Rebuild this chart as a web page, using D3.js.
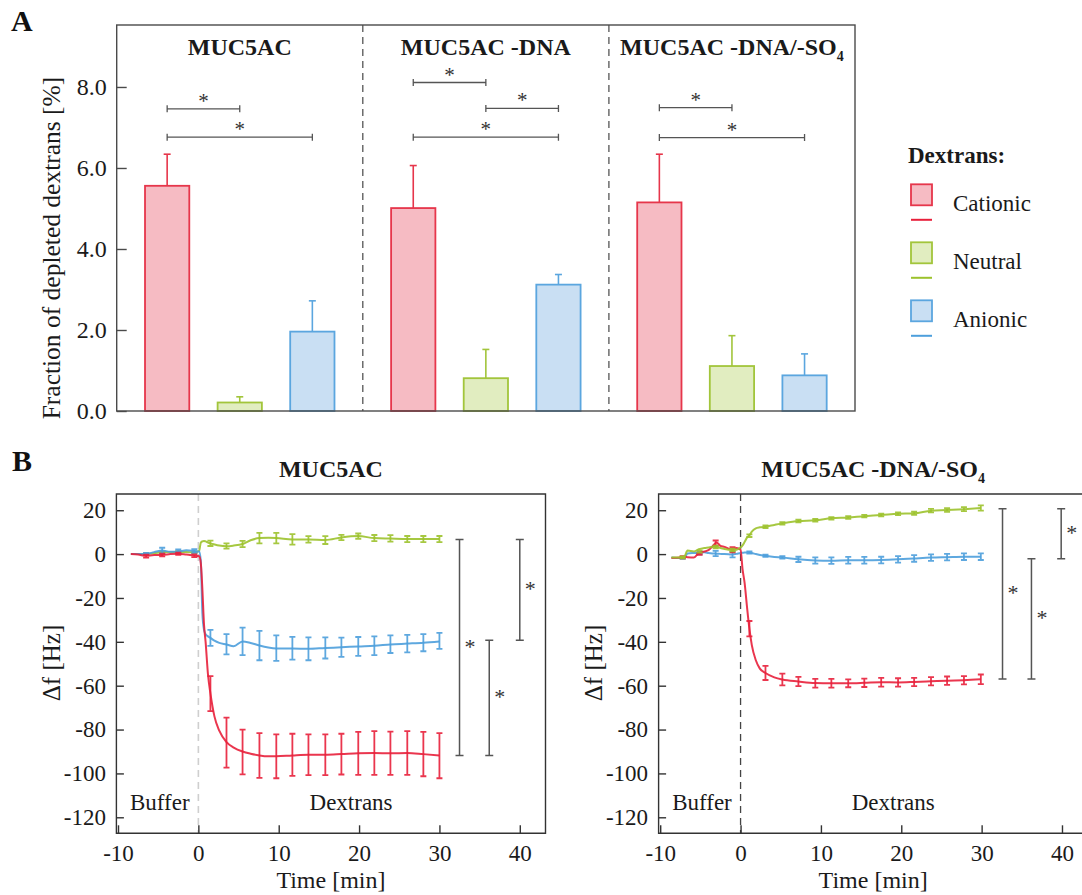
<!DOCTYPE html>
<html><head><meta charset="utf-8">
<script src="https://cdn.jsdelivr.net/npm/d3@7"></script>
<style>
html,body{margin:0;padding:0;background:#fff;}
svg{display:block;}
svg text{font-family:"Liberation Serif","Times New Roman",serif;}
</style></head><body>
<svg id="chart" width="1082" height="895"></svg>
<script>
// ---------------- DATA : panel A ----------------
const groupsA = ["MUC5AC", "MUC5AC -DNA", "MUC5AC -DNA/-SO4"];
const seriesNames = ["Cationic", "Neutral", "Anionic"];
const cationicA = [5.56, 5.01, 5.15];
const cationicErrA = [0.78, 1.05, 1.19];
const neutralA = [0.21, 0.81, 1.11];
const neutralErrA = [0.14, 0.71, 0.75];
const anionicA = [1.96, 3.12, 0.88];
const anionicErrA = [0.76, 0.25, 0.53];
const yTicksA = [0, 2, 4, 6, 8];
// significance brackets: group index, from series, to series, level
const sigGroupA = [0, 0, 1, 1, 1, 2, 2];
const sigFromA  = [0, 0, 0, 1, 0, 0, 0];
const sigToA    = [1, 2, 1, 2, 2, 1, 2];
const sigLevelA = [7.46, 6.76, 8.11, 7.47, 6.76, 7.49, 6.75];

// ---------------- DATA : panel B (left, MUC5AC) ----------------
const tLineL = [-8.4,-7.5,-6.5,-5.5,-4.5,-3.5,-2.5,-1.5,-0.5,0.1,0.3,0.5,0.7,0.9,1.2,1.5,2.0,2.6,3.5,4.4,5.5,6.5,7.6,8.7,9.7,11.7,13.7,15.8,17.8,19.9,21.9,23.9,26.0,28.0,30.0];
const cationicLineL = [0,-0.2,-0.8,-0.4,-0.4,0,0.2,-0.2,-0.7,-1.0,-4,-16,-32,-40,-55,-63.5,-74,-80.5,-85.7,-88.2,-90,-91,-91.8,-92.2,-92.2,-91.8,-91.5,-91.5,-91.2,-90.8,-90.7,-90.8,-90.7,-91.2,-91.8];
const neutralLineL  = [0,0,0.1,0.4,0.8,1.0,0.9,0.9,0.8,1.5,5.2,5.8,6.0,5.8,5.3,4.9,4.4,3.9,3.6,3.9,4.6,6.3,7.3,7.4,7.3,6.7,6.7,6.4,7.6,8.2,7.3,7.1,6.9,6.85,6.85];
const anionicLineL  = [0,0,0.1,0.9,1.6,1.1,1.2,1.7,1.4,1.2,-3,-27,-34.5,-36.5,-37.5,-38.2,-39.5,-40.5,-41.2,-42.0,-39.8,-40.5,-41.7,-42.6,-43.0,-43.0,-43.2,-42.8,-42.5,-42.1,-41.8,-41.2,-40.8,-40.4,-39.8];
const tBarL = [-6.5,-4.5,-2.5,-0.5,1.5,3.5,5.5,7.6,9.7,11.7,13.7,15.8,17.8,19.9,21.9,23.9,26.0,28.0,30.0];
const cationicBarL = [-0.9,-0.45,0.15,-0.75,-63.6,-86.0,-90.2,-91.8,-92.2,-91.5,-91.5,-91.5,-91.2,-90.9,-90.7,-90.8,-90.7,-91.2,-91.9];
const cationicErrL = [0.7,0.6,0.5,0.6,8.0,11.4,10.2,10.2,10.0,9.6,9.3,9.3,9.3,9.8,10.0,9.9,10.0,10.1,10.3];
const neutralBarL  = [0.1,0.8,0.9,0.8,4.9,3.65,4.6,7.3,7.3,6.7,6.7,6.4,7.6,8.2,7.3,7.15,6.85,6.85,6.85];
const neutralErrL  = [0.3,0.4,0.4,0.4,1.2,1.2,1.4,2.4,2.4,2.4,1.5,1.8,1.2,1.2,1.4,1.5,1.4,1.4,1.4];
const anionicBarL  = [0.1,1.6,1.2,1.4,-38.2,-41.1,-39.8,-41.7,-42.9,-42.9,-43.2,-42.8,-42.5,-42.1,-41.8,-41.1,-40.8,-40.4,-39.6];
const anionicErrL  = [0.4,1.3,0.9,0.8,3.65,4.6,6.3,6.7,5.8,5.2,5.2,4.8,4.4,4.3,4.3,4.0,4.0,3.9,3.65];
const sigXL  = [32.5, 36.2, 40.0];
const sigY1L = [6.6, -39.3, 6.6];
const sigY2L = [-91.8, -91.8, -39.3];

// ---------------- DATA : panel B (right, MUC5AC -DNA/-SO4) ----------------
const tLineR = [-8.6,-7.5,-7.0,-6.6,-5.8,-5.2,-4.5,-4.0,-3.5,-3.0,-2.5,-2.0,-1.5,-1.0,-0.5,0.0,0.25,0.5,0.8,1.1,1.4,1.9,2.4,3.1,4.2,5.2,7.2,9.3,11.3,13.4,15.4,17.5,19.6,21.6,23.7,25.7,27.8,29.9];
const cationicLineR = [-1.8,-1.5,-1.3,-1.4,-1.5,0.5,1.2,1.8,3.5,5.3,3.8,3.3,2.5,2.2,2.8,2.0,-7,-13,-24,-34,-41.5,-48.4,-52.2,-54.2,-56.2,-57.2,-58.1,-58.8,-58.9,-58.9,-58.7,-58.4,-58.5,-58.3,-58.0,-57.7,-57.5,-57.1];
const neutralLineR  = [-1.5,-1.5,-1.2,1.6,1.2,2.2,2.8,3.0,3.3,3.1,2.8,2.3,2.0,1.8,2.0,3.0,4.0,5.5,7.5,8.6,10.2,11.7,12.2,12.5,13.3,14.0,15.1,15.4,16.3,16.7,17.3,17.8,18.4,18.6,19.8,20.1,20.5,21.0];
const anionicLineR  = [-1.5,-1.8,-1.8,0.3,0.5,0.6,0.8,0.5,0.3,0.2,0.1,0.0,-0.1,-0.2,0.1,0.5,0.6,0.7,0.7,0.7,0.5,0.0,-0.4,-0.8,-1.3,-1.5,-2.4,-2.9,-3.0,-2.8,-2.8,-2.7,-2.4,-2.0,-1.6,-1.4,-1.2,-1.2];
const tBarR = [-7.2,-5.1,-3.1,-1.0,1.1,3.1,5.2,7.2,9.3,11.3,13.4,15.4,17.5,19.6,21.6,23.7,25.7,27.8,29.9];
const cationicBarR = [-1.4,0.2,5.0,2.0,-34,-54.2,-57.2,-58.1,-58.9,-58.9,-58.9,-58.7,-58.4,-58.5,-58.3,-58.0,-57.7,-57.5,-57.1];
const cationicErrR = [0.5,0.5,1.2,1.2,3.5,3.2,2.7,2.1,2.0,2.0,1.8,1.9,2.0,1.9,1.9,1.9,1.9,1.9,2.2];
const neutralBarR  = [-1.5,1.2,3.2,1.9,8.4,12.5,14.0,15.1,15.4,16.3,16.7,17.3,17.8,18.4,18.6,19.8,20.1,20.5,21.0];
const neutralErrR  = [0.4,0.5,0.6,0.6,0.6,0.6,0.6,0.6,0.6,0.6,0.6,0.6,0.6,0.6,0.7,0.8,0.8,0.9,1.2];
const anionicBarR  = [-1.8,0.5,0.3,-0.2,0.7,-0.8,-1.5,-2.4,-2.9,-3.0,-2.8,-2.8,-2.7,-2.4,-2.0,-1.6,-1.4,-1.2,-1.2];
const anionicErrR  = [0.4,0.6,1.2,1.3,0.5,0.5,0.6,1.2,1.4,1.5,1.5,1.5,1.5,1.5,1.5,1.5,1.5,1.5,1.5];
const sigXR  = [32.6, 36.2, 39.9];
const sigY1R = [20.7, -2.1, 20.7];
const sigY2R = [-57.0, -57.0, -2.1];

const yTicksB = [20, 0, -20, -40, -60, -80, -100, -120];
const xTicksB = [-10, 0, 10, 20, 30, 40];

// ---------------- STYLE ----------------
const style = {
  Cationic: {stroke: "#e6364b", fill: "#f6bbc3", line: "#e8203b"},
  Neutral:  {stroke: "#a2c53b", fill: "#e1edc0", line: "#9cc22c"},
  Anionic:  {stroke: "#5ba6df", fill: "#c9dff3", line: "#4d9fdc"}
};
const textColor = "#1a1a1a";
const serif = '"Liberation Serif","Times New Roman",serif';

const svg = d3.select("#chart").attr("font-family", serif);

// ================= PANEL A =================
const A = {x0: 116.7, x1: 855, y0: 25, y1: 411};
const gx = d3.scaleBand().domain(groupsA).range([A.x0, A.x1]);
const sx = d3.scaleBand().domain(seriesNames).range([0, gx.bandwidth()]).paddingInner(0.39).paddingOuter(0.39);
const yA = d3.scaleLinear().domain([0, 9.53]).range([A.y1, A.y0]);
const valsA = {Cationic: cationicA, Neutral: neutralA, Anionic: anionicA};
const errsA = {Cationic: cationicErrA, Neutral: neutralErrA, Anionic: anionicErrA};

const gA = svg.append("g");
gA.selectAll("line.sep").data(groupsA.slice(1)).enter().append("line")
  .attr("x1", d => gx(d)).attr("x2", d => gx(d))
  .attr("y1", A.y0).attr("y2", A.y1)
  .attr("stroke", "#555").attr("stroke-width", 1.3).attr("stroke-dasharray", "7,5");

groupsA.forEach((g, gi) => {
  seriesNames.forEach(s => {
    const v = valsA[s][gi], e = errsA[s][gi];
    const cx = gx(g) + sx(s) + sx.bandwidth() / 2;
    gA.append("line").attr("x1", cx).attr("x2", cx).attr("y1", yA(v)).attr("y2", yA(v + e))
      .attr("stroke", style[s].stroke).attr("stroke-width", 1.6);
    gA.append("line").attr("x1", cx - 3.5).attr("x2", cx + 3.5).attr("y1", yA(v + e)).attr("y2", yA(v + e))
      .attr("stroke", style[s].stroke).attr("stroke-width", 1.6);
    gA.append("rect").attr("x", gx(g) + sx(s)).attr("width", sx.bandwidth())
      .attr("y", yA(v)).attr("height", yA(0) - yA(v))
      .attr("fill", style[s].fill).attr("stroke", style[s].stroke).attr("stroke-width", 1.8);
  });
});

gA.append("rect").attr("x", A.x0).attr("y", A.y0).attr("width", A.x1 - A.x0).attr("height", A.y1 - A.y0)
  .attr("fill", "none").attr("stroke", "#4a4a4a").attr("stroke-width", 1.4);

const axA = gA.append("g").attr("transform", `translate(${A.x0},0)`)
  .call(d3.axisLeft(yA).tickValues(yTicksA).tickSize(-10).tickPadding(10).tickFormat(d => d.toFixed(1)));
axA.attr("font-family", serif);
axA.select(".domain").remove();
axA.selectAll(".tick line").attr("stroke", "#4a4a4a").attr("stroke-width", 1.4);
axA.selectAll(".tick text").attr("font-size", 24).attr("fill", textColor);

groupsA.forEach((g, gi) => {
  const t = gA.append("text").attr("x", gx(g) + gx.bandwidth() / 2).attr("y", 55)
    .attr("text-anchor", "middle").attr("font-size", 24).attr("font-weight", "bold").attr("fill", textColor);
  if (g.endsWith("SO4")) {
    t.append("tspan").text(g.slice(0, -1));
    t.append("tspan").attr("font-size", 14).attr("dy", 6).text("4");
  } else t.text(g);
});

sigGroupA.forEach((gi, i) => {
  const g = groupsA[gi];
  const xa = gx(g) + sx(seriesNames[sigFromA[i]]) + sx.bandwidth() / 2;
  const xb = gx(g) + sx(seriesNames[sigToA[i]]) + sx.bandwidth() / 2;
  const y = yA(sigLevelA[i]);
  gA.append("path").attr("d", `M${xa},${y - 3.5}V${y + 3.5}M${xa},${y}H${xb}M${xb},${y - 3.5}V${y + 3.5}`)
    .attr("fill", "none").attr("stroke", "#555").attr("stroke-width", 1.3);
  gA.append("text").attr("x", (xa + xb) / 2).attr("y", y - 1).attr("text-anchor", "middle")
    .attr("font-size", 21).attr("fill", "#333").text("*");
});

gA.append("text").attr("transform", `translate(60,248) rotate(-90)`)
  .attr("text-anchor", "middle").attr("font-size", 25.5).attr("fill", textColor)
  .text("Fraction of depleted dextrans [%]");

svg.append("text").attr("x", 11).attr("y", 31).attr("font-size", 30).attr("font-weight", "bold").attr("fill", "#111").text("A");
svg.append("text").attr("x", 12).attr("y", 471).attr("font-size", 30).attr("font-weight", "bold").attr("fill", "#111").text("B");

// legend
const leg = svg.append("g");
leg.append("text").attr("x", 908).attr("y", 163).attr("font-size", 23).attr("font-weight", "bold").attr("fill", textColor).text("Dextrans:");
const legY = d3.scalePoint().domain(seriesNames).range([184.3, 300.3]);
seriesNames.forEach(s => {
  const y = legY(s);
  leg.append("rect").attr("x", 911).attr("y", y).attr("width", 21).attr("height", 21)
    .attr("fill", style[s].fill).attr("stroke", style[s].stroke).attr("stroke-width", 1.8);
  leg.append("line").attr("x1", 911).attr("x2", 932).attr("y1", y + 35.5).attr("y2", y + 35.5)
    .attr("stroke", style[s].line).attr("stroke-width", 2);
  leg.append("text").attr("x", 953).attr("y", y + 26.5).attr("font-size", 23).attr("fill", textColor).text(s);
});

// ================= PANEL B =================
function drawPanel(o) {
  const g = svg.append("g");
  const x = d3.scaleLinear().domain([-10.2, 43.2]).range([o.left, o.left + 429.1]);
  const y = d3.scaleLinear().domain([-127.3, 27.4]).range([833.3, 494]);
  const right = Math.min(x(43.2), 1082);

  g.append("line").attr("x1", x(0)).attr("x2", x(0)).attr("y1", 494).attr("y2", 833.3)
    .attr("stroke", o.dashColor).attr("stroke-width", o.dashWidth).attr("stroke-dasharray", "7,5");

  const frame = o.openRight
    ? `M${right},494H${o.left}V833.3H${right}`
    : `M${o.left},494H${right}V833.3H${o.left}Z`;
  g.append("path").attr("d", frame).attr("fill", "none").attr("stroke", "#333").attr("stroke-width", 1.4);

  const ay = g.append("g").attr("transform", `translate(${o.left},0)`)
    .call(d3.axisLeft(y).tickValues(yTicksB).tickSize(-7.5).tickPadding(10.5).tickFormat(d => String(d)));
  const ax = g.append("g").attr("transform", `translate(0,833.3)`)
    .call(d3.axisBottom(x).tickValues(xTicksB).tickSize(-8).tickPadding(11.5).tickFormat(d => String(d)));
  [ay, ax].forEach(a => {
    a.attr("font-family", serif);
    a.select(".domain").remove();
    a.selectAll(".tick line").attr("stroke", "#333").attr("stroke-width", 1.4);
    a.selectAll(".tick text").attr("font-size", 23).attr("fill", textColor);
  });

  const line = d3.line().x(d => x(d[0])).y(d => y(d[1])).curve(d3.curveMonotoneX);
  o.series.forEach(s => {
    const col = style[s.name].line;
    g.append("path").datum(s.lt.map((t, i) => [t, s.lv[i]])).attr("d", line)
      .attr("fill", "none").attr("stroke", col).attr("stroke-width", 2).attr("stroke-opacity", 0.9);
    s.bt.forEach((t, i) => {
      const cx = x(t), y1 = y(s.bv[i] + s.be[i]), y2 = y(s.bv[i] - s.be[i]);
      g.append("path").attr("d", `M${cx},${y1}V${y2}M${cx - 3},${y1}H${cx + 3}M${cx - 3},${y2}H${cx + 3}`)
        .attr("fill", "none").attr("stroke", col).attr("stroke-width", 1.8).attr("stroke-opacity", 0.9);
    });
  });

  o.sigX.forEach((sxv, i) => {
    const cx = x(sxv), y1 = y(o.sigY1[i]), y2 = y(o.sigY2[i]);
    g.append("path").attr("d", `M${cx - 4},${y1}H${cx + 4}M${cx},${y1}V${y2}M${cx - 4},${y2}H${cx + 4}`)
      .attr("fill", "none").attr("stroke", "#555").attr("stroke-width", 1.5);
    g.append("text").attr("x", cx + 10.5).attr("y", (y1 + y2) / 2 - 4 + 10.5).attr("text-anchor", "middle")
      .attr("font-size", 22).attr("fill", "#333").text("*");
  });

  g.append("text").attr("x", x(-4.8)).attr("y", y(-116.5)).attr("text-anchor", "middle")
    .attr("font-size", 23).attr("fill", textColor).text("Buffer");
  g.append("text").attr("x", x(19.0)).attr("y", y(-116.5)).attr("text-anchor", "middle")
    .attr("font-size", 23).attr("fill", textColor).text("Dextrans");
  const cxm = (x(-10.2) + x(43.2)) / 2;
  const tt = g.append("text").attr("x", cxm).attr("y", 477.3).attr("text-anchor", "middle")
    .attr("font-size", 24).attr("font-weight", "bold").attr("fill", textColor);
  if (o.title.endsWith("SO4")) {
    tt.append("tspan").text(o.title.slice(0, -1));
    tt.append("tspan").attr("font-size", 14).attr("dy", 6).text("4");
  } else tt.text(o.title);
  g.append("text").attr("x", cxm).attr("y", 888).attr("text-anchor", "middle")
    .attr("font-size", 24).attr("fill", textColor).text("Time [min]");
  g.append("text").attr("transform", `translate(${o.ylabX},663) rotate(-90)`).attr("text-anchor", "middle")
    .attr("font-size", 25).attr("fill", textColor).text("Δf [Hz]");
}

drawPanel({
  left: 116.4, title: "MUC5AC", dashColor: "#cfcfcf", dashWidth: 1.6, openRight: false, ylabX: 60,
  series: [
    {name: "Neutral", lt: tLineL, lv: neutralLineL, bt: tBarL, bv: neutralBarL, be: neutralErrL},
    {name: "Anionic", lt: tLineL, lv: anionicLineL, bt: tBarL, bv: anionicBarL, be: anionicErrL},
    {name: "Cationic", lt: tLineL, lv: cationicLineL, bt: tBarL, bv: cationicBarL, be: cationicErrL}
  ],
  sigX: sigXL, sigY1: sigY1L, sigY2: sigY2L
});
drawPanel({
  left: 658.6, title: "MUC5AC -DNA/-SO4", dashColor: "#444", dashWidth: 1.3, openRight: true, ylabX: 602,
  series: [
    {name: "Anionic", lt: tLineR, lv: anionicLineR, bt: tBarR, bv: anionicBarR, be: anionicErrR},
    {name: "Cationic", lt: tLineR, lv: cationicLineR, bt: tBarR, bv: cationicBarR, be: cationicErrR},
    {name: "Neutral", lt: tLineR, lv: neutralLineR, bt: tBarR, bv: neutralBarR, be: neutralErrR}
  ],
  sigX: sigXR, sigY1: sigY1R, sigY2: sigY2R
});
</script>
</body></html>
